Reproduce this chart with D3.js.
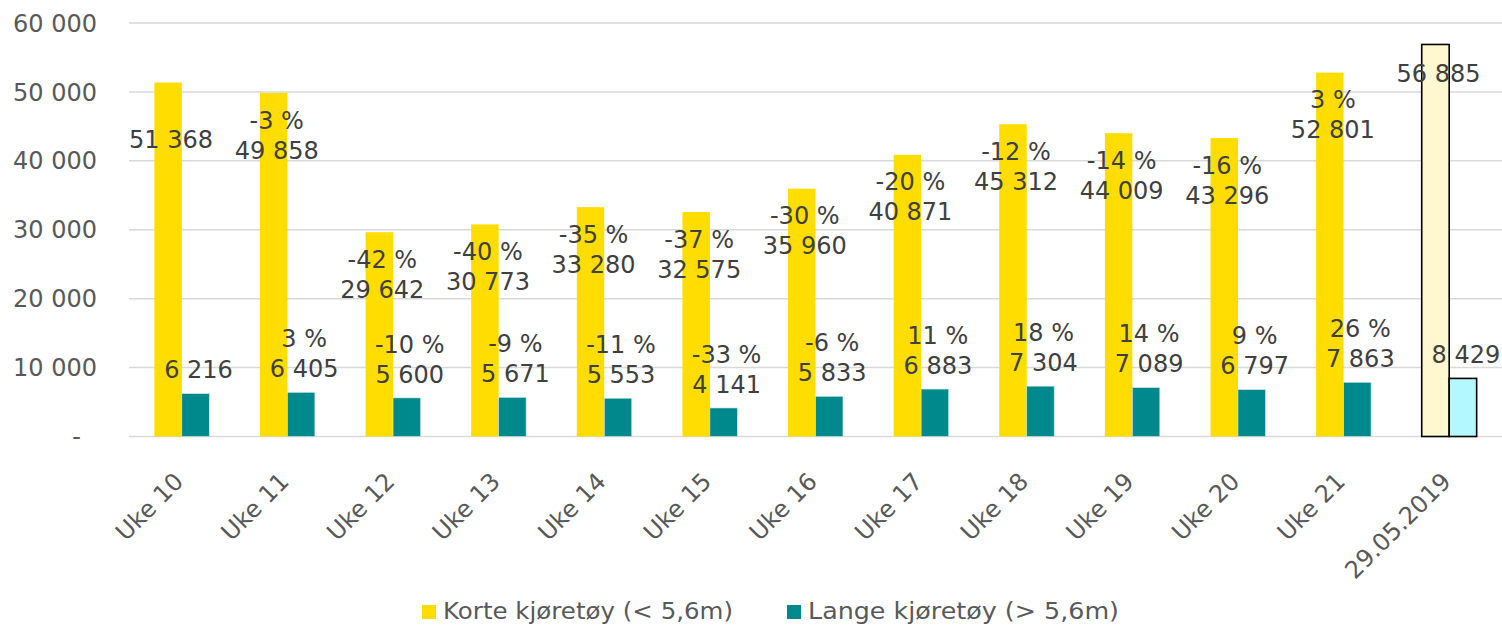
<!DOCTYPE html>
<html>
<head>
<meta charset="utf-8">
<script src="https://cdn.jsdelivr.net/npm/d3@7"></script>
<style>
  body { margin: 0; background: #fff; }
  svg { font-family: "DejaVu Sans", Verdana, sans-serif; }
  .grid line { stroke: #d9d9d9; stroke-width: 1.5; }
  .ytick { fill: #595959; font-size: 24px; }
  .xtick { fill: #595959; font-size: 24px; }
  .lbl { fill: #404040; font-size: 24px; }
  .legend text { fill: #595959; font-size: 23px; }
</style>
</head>
<body>
<div id="wrapper"></div>
<script>
// data
let categories = ['Uke 10', 'Uke 11', 'Uke 12', 'Uke 13', 'Uke 14', 'Uke 15', 'Uke 16',
                  'Uke 17', 'Uke 18', 'Uke 19', 'Uke 20', 'Uke 21', '29.05.2019'];
let korte = [51368, 49858, 29642, 30773, 33280, 32575, 35960, 40871, 45312, 44009, 43296, 52801, 56885];
let lange = [6216, 6405, 5600, 5671, 5553, 4141, 5833, 6883, 7304, 7089, 6797, 7863, 8429];
let kortePct = [null, -3, -42, -40, -35, -37, -30, -20, -12, -14, -16, 3, null];
let langePct = [null, 3, -10, -9, -11, -33, -6, 11, 18, 14, 9, 26, null];
let yTicks = [0, 10000, 20000, 30000, 40000, 50000, 60000];
let seriesNames = ['Korte kjøretøy (< 5,6m)', 'Lange kjøretøy (> 5,6m)'];

let colorKeeper = ['#FFDD00', '#00898C'];
let lastColors = ['#FFF7CF', '#B3F8FF'];

let width = 1502, height = 628;
let svg = d3.select('#wrapper').append('svg').attr('width', width).attr('height', height);

let fmt = v => d3.format(',')(v).replace(/,/g, ' ');

let xScale = d3.scaleBand().domain(categories).range([129, 1502]).paddingInner(0.48).paddingOuter(0.24);
let xSub = d3.scaleBand().domain([0, 1]).range([0, xScale.bandwidth()]);
let yScale = d3.scaleLinear().domain([0, 60000]).range([436.5, 23]);

// gridlines
let grid = svg.append('g').classed('grid', true);
grid.selectAll('line').data(yTicks).enter().append('line')
    .attr('x1', 129).attr('x2', 1502)
    .attr('y1', d => yScale(d)).attr('y2', d => yScale(d));

// y labels
svg.append('g').selectAll('text').data(yTicks).enter().append('text')
    .classed('ytick', true)
    .attr('x', d => d == 0 ? 81 : 97)
    .attr('y', d => yScale(d))
    .attr('dy', '0.36em')
    .attr('text-anchor', 'end')
    .text(d => d == 0 ? '-' : fmt(d));

let last = categories.length - 1;
let rows = categories.map((c, i) => ({cat: c, i: i, vals: [korte[i], lange[i]], pcts: [kortePct[i], langePct[i]]}));

let groups = svg.append('g').selectAll('.grp').data(rows).enter().append('g')
    .classed('grp', true)
    .attr('transform', d => 'translate(' + xScale(d.cat) + ',0)');

groups.selectAll('rect').data(d => d.vals.map((v, k) => ({v: v, k: k, i: d.i}))).enter().append('rect')
    .attr('x', d => xSub(d.k))
    .attr('width', xSub.bandwidth())
    .attr('y', d => yScale(d.v))
    .attr('height', d => yScale(0) - yScale(d.v))
    .attr('fill', d => d.i == last ? lastColors[d.k] : colorKeeper[d.k])
    .attr('stroke', d => d.i == last ? '#000' : (d.k == 1 ? '#cfe6e6' : 'none'))
    .attr('stroke-width', d => d.i == last ? 1.6 : 0.6);

// data labels
let lineH = 30;
groups.each(function(d) {
    let g = d3.select(this);
    d.vals.forEach((v, k) => {
        let cx = xSub(k) + xSub.bandwidth() / 2 + 3;
        let yLast;
        if (k == 0) yLast = yScale(v) + (d.i == last ? 29 : 57);
        else yLast = yScale(v) - 24;
        let lines = [];
        if (d.pcts[k] != null) lines.push(d.pcts[k] + ' %');
        lines.push(fmt(v));
        lines.forEach((t, j) => {
            g.append('text').classed('lbl', true)
                .attr('x', cx)
                .attr('y', yLast - (lines.length - 1 - j) * lineH)
                .attr('dy', '0.36em')
                .attr('text-anchor', 'middle')
                .text(t);
        });
    });
});

// x labels
svg.append('g').selectAll('text').data(categories).enter().append('text')
    .classed('xtick', true)
    .attr('text-anchor', 'end')
    .attr('transform', d => 'translate(' + (xScale(d) + xScale.bandwidth() / 2 + 3) + ',483) rotate(-45)')
    .text(d => d);

// legend
let legend = svg.append('g').classed('legend', true);
let legX = [422, 787], legW = [290, 311];
seriesNames.forEach((n, k) => {
    legend.append('rect').attr('x', legX[k]).attr('y', 605).attr('width', 14).attr('height', 14)
        .attr('fill', colorKeeper[k]);
    legend.append('text').attr('x', legX[k] + 21).attr('y', 619)
        .attr('textLength', legW[k]).attr('lengthAdjust', 'spacingAndGlyphs')
        .text(n);
});
</script>
</body>
</html>
